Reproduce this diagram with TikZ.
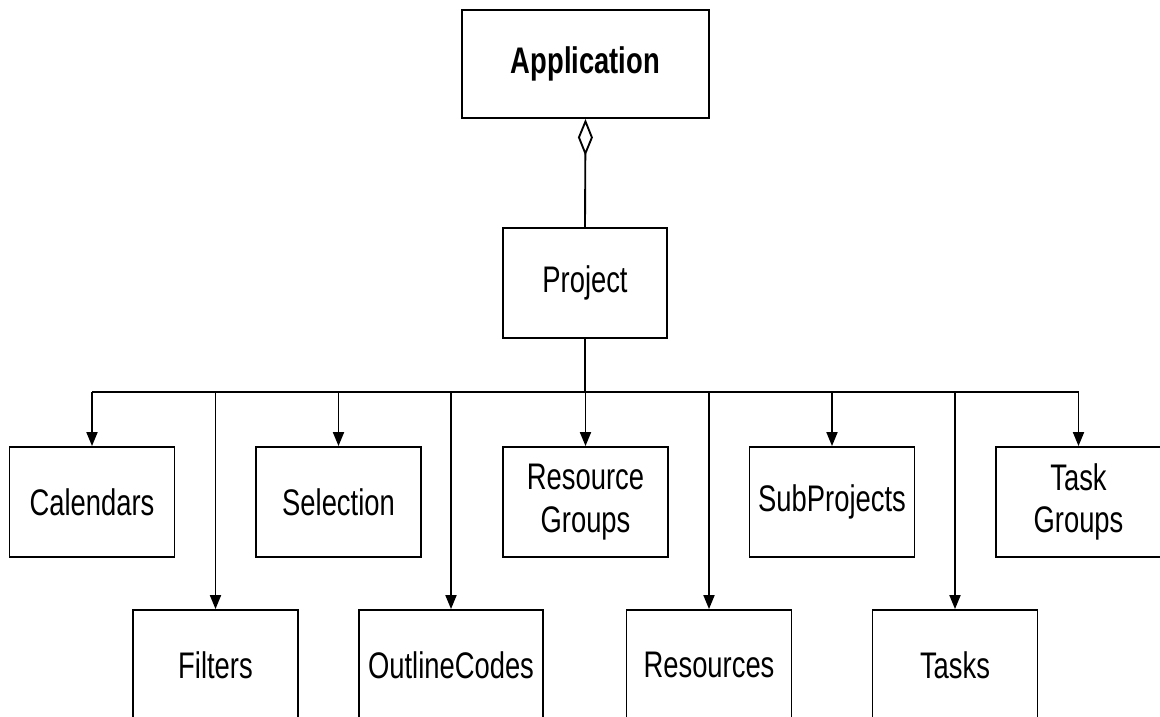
\documentclass[tikz,border=0pt]{standalone}
\usepackage{fontspec}
\setmainfont{Liberation Sans}[FakeStretch=0.74]
\usetikzlibrary{arrows.meta}
\begin{document}
\begin{tikzpicture}[x=0.75pt,y=-0.75pt,
  box/.style={draw=black, line width=1.4pt, fill=white, inner sep=0pt,
    align=center, minimum width=123.75pt, minimum height=82.5pt,
    font=\fontsize{27.75pt}{32pt}\selectfont},
  link/.style={draw=black, line width=1.4pt},
  child/.style={link, -{Triangle[length=10.5pt,width=8.25pt]}},
  whole/.style={link, {Diamond[open,length=27.75pt,width=11.25pt]}-}]
\useasboundingbox (0,0) rectangle (1160,717);
\clip (0,0) rectangle (1160,717);

% top of the hierarchy
\node[box, minimum width=185.25pt, minimum height=81pt, font=\fontsize{27.75pt}{32pt}\selectfont\bfseries]
  (app) at (585.5,64) {Application};
\node[box, minimum width=123pt] (proj) at (585,283) {Project};

% collections owned by the project, upper row
\node[box] (cal) at (92,502)    {Calendars};
\node[box] (sel) at (338.5,502) {Selection};
\node[box] (rg)  at (585.5,502) {Resource\\Groups};
\node[box] (sub) at (832,502)   {SubProjects};
\node[box] (tg)  at (1078.5,502){Task\\Groups};

% lower row
\node[box] (fil)   at (215.5,665) {Filters};
\node[box, minimum width=138pt] (oc) at (451,665) {OutlineCodes};
\node[box] (res)   at (709,665)   {Resources};
\node[box] (tasks) at (955,665)   {Tasks};

% aggregation
\draw[whole] (app.south) -- (proj.north);

% distribution bus
\coordinate (bus) at (585,392);
\draw[link] (proj.south) -- (bus);
\draw[link] (bus -| cal.north) -- (bus -| tg.north);

\foreach \n in {cal,sel,rg,sub,tg}
  \draw[child] (bus -| \n.north) -- (\n.north);
\draw[child] (bus -| fil.north) -- (fil.north);
\draw[child] (bus -| oc.north) -- (oc.north);
\draw[child] (bus -| res.north) -- (res.north);
\draw[child] (bus -| tasks.north) -- (tasks.north);
\end{tikzpicture}
\end{document}
